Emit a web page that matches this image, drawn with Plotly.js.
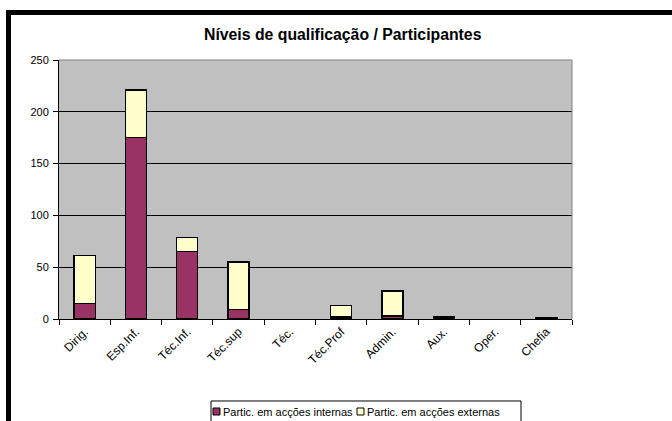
<!DOCTYPE html>
<html><head><meta charset="utf-8">
<script src="https://cdn.plot.ly/plotly-3.0.1.min.js"></script>
<style>
body{margin:0;padding:0;background:#fff;}
#wrap{position:relative;width:672px;height:421px;overflow:hidden;}
#frame{position:absolute;left:6px;top:10px;width:700px;height:450px;border-left:5px solid #000;border-top:5px solid #000;box-sizing:border-box;pointer-events:none;z-index:5;}
#chart{position:absolute;left:0;top:0;width:672px;height:421px;}
</style></head>
<body>
<div id="wrap"><div id="chart"></div><div id="frame"></div></div>
<script>
const categories = ["Dirig.", "Esp.Inf.", "Téc.Inf.", "Téc.sup", "Téc.", "Téc.Prof", "Admin.", "Aux.", "Oper.", "Chefia"];
const internas = [15, 175, 65, 9, null, 2, 3, 1, null, 1];
const externas = [46, 46, 14, 46, null, 11, 24, 1, null, null];
const yTicks = [0, 50, 100, 150, 200, 250];
const seriesNames = ["Partic. em acções internas", "Partic. em acções externas"];
const seriesColors = ["#993366", "#FFFFCC"];

const FF = "Liberation Sans, Arial, sans-serif";
const font = {family: FF, size: 11, color: "#000"};

const data = [
  {type: "bar", name: seriesNames[0], x: categories, y: internas,
   marker: {color: seriesColors[0], line: {color: "#000", width: 1.3}}},
  {type: "bar", name: seriesNames[1], x: categories, y: externas,
   marker: {color: seriesColors[1], line: {color: "#000", width: 1.3}}}
];

// custom compact legend (Excel style), in paper coordinates
const legX = [0.3002, 0.5809];
const sqW = 0.0136, sqY0 = -0.3436, sqY1 = -0.3707;
const shapes = [
  {type: "line", xref: "paper", yref: "paper", x0: 0, x1: 1, y0: 1, y1: 1, line: {color: "#808080", width: 1}},
  {type: "line", xref: "paper", yref: "paper", x0: 1, x1: 1, y0: 0, y1: 1, line: {color: "#808080", width: 1}},
  {type: "rect", xref: "paper", yref: "paper", x0: 0.2963, x1: 0.9006, y0: -0.3166, y1: -0.42, line: {color: "#000", width: 1}, fillcolor: "rgba(0,0,0,0)"}
];
const annotations = [];
seriesNames.forEach((n, i) => {
  shapes.push({type: "rect", xref: "paper", yref: "paper", x0: legX[i], x1: legX[i] + sqW, y0: sqY0, y1: sqY1,
               line: {color: "#000", width: 1}, fillcolor: seriesColors[i]});
  annotations.push({xref: "paper", yref: "paper", x: legX[i] + sqW + 0.002, y: (sqY0 + sqY1) / 2,
                    xanchor: "left", yanchor: "middle", text: n, showarrow: false, font: font});
});

const layout = {
  width: 672, height: 421,
  margin: {l: 59, r: 100, t: 60, b: 102, autoexpand: false},
  paper_bgcolor: "#fff", plot_bgcolor: "#C0C0C0",
  barmode: "stack", bargap: 0.59,
  font: font,
  title: {text: "<b>Níveis de qualificação / Participantes</b>", x: 0.51, xanchor: "center", y: 0.917, yanchor: "middle",
          font: {family: FF, size: 15.8, color: "#000"}},
  showlegend: false,
  xaxis: {type: "category", tickangle: -45, ticks: "outside", ticklen: 5, tickcolor: "#000",
          tickson: "boundaries", showline: true, linecolor: "#000", linewidth: 1, automargin: false,
          showgrid: false, tickfont: {family: FF, size: 12, color: "#000"}, fixedrange: true},
  yaxis: {range: [0, 250], tickvals: yTicks, ticks: "outside", ticklen: 5, tickcolor: "#000", automargin: false,
          showline: true, linecolor: "#000", linewidth: 1, showgrid: true, gridcolor: "#000", gridwidth: 1,
          zeroline: false, tickfont: font, ticklabelstandoff: 2},
  shapes: shapes,
  annotations: annotations
};

Plotly.newPlot("chart", data, layout, {displayModeBar: false, staticPlot: true});
</script>
</body></html>
